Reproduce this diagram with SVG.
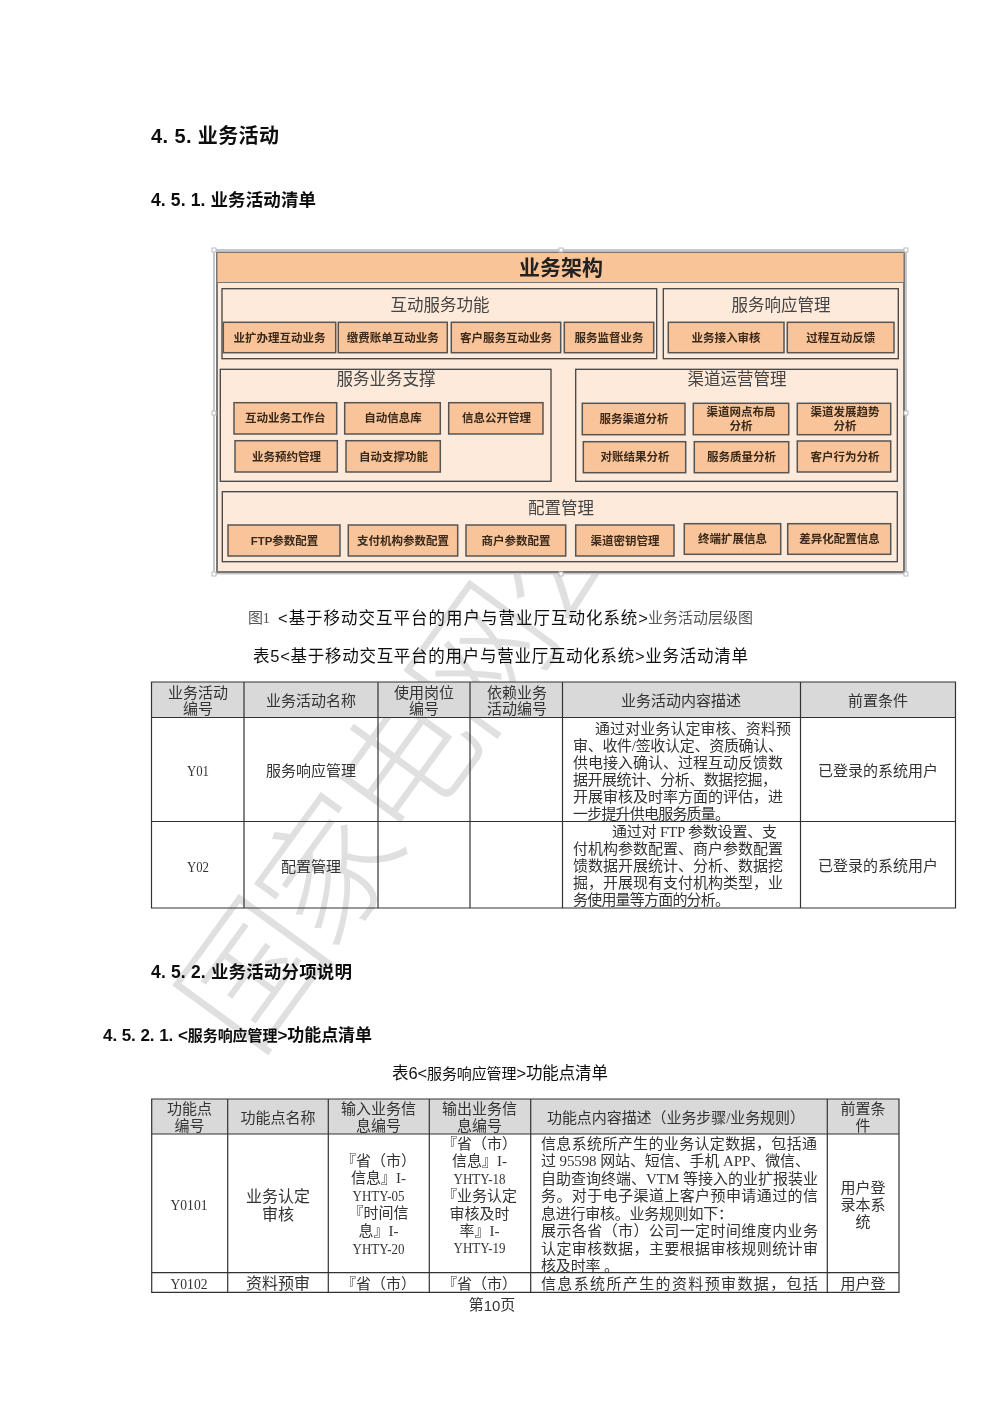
<svg xmlns="http://www.w3.org/2000/svg" width="1000" height="1415" viewBox="0 0 1000 1415">
<defs><filter id="soft" x="-2%" y="-2%" width="104%" height="104%"><feGaussianBlur stdDeviation="0.4"/></filter></defs>
<style>
text{dominant-baseline:central}
.h{font-family:"Liberation Sans","Noto Sans CJK SC",sans-serif;font-weight:700;fill:#111}
.cap{font-family:"Liberation Sans","Noto Sans CJK SC",sans-serif;fill:#111;font-size:16.5px}
.song{font-family:"Liberation Serif","Noto Sans CJK SC",serif;fill:#555;font-size:15px}
.c{text-anchor:middle}
.t{font-family:"Liberation Serif","Noto Sans CJK SC",serif;fill:#333;font-size:15px}
.big{font-size:16px}
.head{fill:#d9d9d9;stroke:none}
.grid{stroke:#333;stroke-width:1.2;fill:none}
.outer{fill:#fdeadb;stroke:#777;stroke-width:2}
.band{fill:#f8c498;stroke:#777;stroke-width:1}
.grp{fill:#fdeadb;stroke:#444;stroke-width:1.3}
.box{fill:#f9c499;stroke:#555;stroke-width:1.5}
.gt{font-family:"Noto Sans CJK SC",sans-serif;fill:#444;font-size:16.5px;text-anchor:middle}
.bt{font-family:"Liberation Sans","Noto Sans CJK SC",sans-serif;font-weight:700;fill:#3a2a1a;font-size:11.5px;text-anchor:middle}
.hd{fill:#fff;stroke:#bbb;stroke-width:1}
.wm{font-family:"Noto Sans CJK SC",sans-serif;font-size:138px;fill:#e0e0e0;font-weight:300;letter-spacing:-8px}
</style>
<rect width="1000" height="1415" fill="#fff"/>
<g filter="url(#soft)">
<g id="watermark"><text class="wm" x="0" y="0" transform="translate(204,1024) rotate(-54)">国家电网公司</text></g>

<g id="headings">
<text class="h" x="151" y="136" font-size="20" textLength="128">4. 5.  业务活动</text>
<text class="h" x="151" y="200" font-size="17.5" textLength="165">4. 5. 1.  业务活动清单</text>
<text class="h" x="151" y="972" font-size="17.5" textLength="201">4. 5. 2.  业务活动分项说明</text>
<text class="h" x="103" y="1035" font-size="17" textLength="269">4. 5. 2. 1. &lt;<tspan font-size="15">服务响应管理</tspan>&gt;功能点清单</text>
</g>

<g id="figure">
<rect x="214" y="250" width="692" height="323.500" fill="none" stroke="#c8c8c8" stroke-width="2"/>
<rect class="outer" x="217" y="252.500" width="687" height="319.500"/>
<rect class="band" x="217" y="252.500" width="687" height="30"/>
<text x="561" y="266" class="c" font-family="Noto Sans CJK SC, sans-serif" font-weight="700" font-size="21" fill="#222">业务架构</text>
<g class="handles">
<rect class="hd" x="212" y="248" width="4" height="4"/><rect class="hd" x="559" y="248" width="4" height="4"/><rect class="hd" x="904" y="248" width="4" height="4"/>
<rect class="hd" x="212" y="411" width="4" height="4"/><rect class="hd" x="904" y="411" width="4" height="4"/>
<rect class="hd" x="212" y="572" width="4" height="4"/><rect class="hd" x="559" y="572" width="4" height="4"/><rect class="hd" x="904" y="572" width="4" height="4"/>
</g>

<g id="g-hudong">
<rect class="grp" x="222" y="288.700" width="434.700" height="70"/>
<text class="gt" x="440" y="304">互动服务功能</text>
<g id="n1"><rect class="box" x="223.300" y="322.300" width="112.400" height="30.400"/><text class="bt" x="279.500" y="337.500">业扩办理互动业务</text></g>
<g id="n2"><rect class="box" x="338.300" y="322.300" width="109" height="30.400"/><text class="bt" x="392.800" y="337.500">缴费账单互动业务</text></g>
<g id="n3"><rect class="box" x="451.300" y="322.300" width="109.400" height="30.400"/><text class="bt" x="506" y="337.500">客户服务互动业务</text></g>
<g id="n4"><rect class="box" x="564.300" y="322.300" width="89.400" height="30.400"/><text class="bt" x="609" y="337.500">服务监督业务</text></g>
</g>

<g id="g-xiangying">
<rect class="grp" x="663.300" y="288.700" width="235" height="70"/>
<text class="gt" x="781" y="304">服务响应管理</text>
<g id="n5"><rect class="box" x="668.300" y="322.300" width="115.700" height="30.400"/><text class="bt" x="726" y="337.500">业务接入审核</text></g>
<g id="n6"><rect class="box" x="787.300" y="322.300" width="106.700" height="30.400"/><text class="bt" x="840.700" y="337.500">过程互动反馈</text></g>
</g>

<g id="g-zhicheng">
<rect class="grp" x="220.300" y="369.300" width="330.700" height="112"/>
<text class="gt" x="386" y="378">服务业务支撑</text>
<g id="n7"><rect class="box" x="234" y="402.700" width="102.700" height="31.300"/><text class="bt" x="285.300" y="418.300">互动业务工作台</text></g>
<g id="n8"><rect class="box" x="344.700" y="402.700" width="95.600" height="31.300"/><text class="bt" x="393" y="418.300">自动信息库</text></g>
<g id="n9"><rect class="box" x="448.700" y="402.700" width="94.300" height="31.300"/><text class="bt" x="496.500" y="418.300">信息公开管理</text></g>
<g id="n10"><rect class="box" x="235" y="440.700" width="102.300" height="31.300"/><text class="bt" x="286.500" y="456.600">业务预约管理</text></g>
<g id="n11"><rect class="box" x="346" y="440.700" width="94.300" height="31.300"/><text class="bt" x="393.500" y="456.600">自动支撑功能</text></g>
</g>

<g id="g-qudao">
<rect class="grp" x="575.700" y="369.300" width="321.600" height="112"/>
<text class="gt" x="737" y="378">渠道运营管理</text>
<g id="n12"><rect class="box" x="582.300" y="403.300" width="102.700" height="31.400"/><text class="bt" x="634" y="419">服务渠道分析</text></g>
<g id="n13"><rect class="box" x="693.300" y="403.300" width="95.400" height="31.400"/><text class="bt" x="741" y="412.300">渠道网点布局</text><text class="bt" x="741" y="426">分析</text></g>
<g id="n14"><rect class="box" x="797.300" y="403.300" width="93.400" height="31.400"/><text class="bt" x="845" y="412.300">渠道发展趋势</text><text class="bt" x="845" y="426">分析</text></g>
<g id="n15"><rect class="box" x="583.300" y="441.700" width="102.400" height="31"/><text class="bt" x="635" y="457">对账结果分析</text></g>
<g id="n16"><rect class="box" x="694.300" y="441.700" width="94.400" height="31"/><text class="bt" x="741.500" y="457">服务质量分析</text></g>
<g id="n17"><rect class="box" x="797.300" y="441" width="93.400" height="31"/><text class="bt" x="845" y="456.500">客户行为分析</text></g>
</g>

<g id="g-peizhi">
<rect class="grp" x="222.300" y="491.700" width="675" height="70"/>
<text class="gt" x="561" y="507">配置管理</text>
<g id="n18"><rect class="box" x="228" y="525" width="112" height="31"/><text class="bt" x="284.500" y="540.500">FTP参数配置</text></g>
<g id="n19"><rect class="box" x="348.300" y="525" width="109.400" height="31"/><text class="bt" x="403" y="540.500">支付机构参数配置</text></g>
<g id="n20"><rect class="box" x="466" y="525" width="99.700" height="31"/><text class="bt" x="516" y="540.500">商户参数配置</text></g>
<g id="n21"><rect class="box" x="575.700" y="525" width="98.300" height="31"/><text class="bt" x="625" y="540.500">渠道密钥管理</text></g>
<g id="n22"><rect class="box" x="684.300" y="523.700" width="96.400" height="30.600"/><text class="bt" x="732.500" y="538.500">终端扩展信息</text></g>
<g id="n23"><rect class="box" x="787.700" y="523.700" width="103" height="30.600"/><text class="bt" x="839.500" y="538.500">差异化配置信息</text></g>
</g>
</g>

<g id="captions">
<text class="song" x="248" y="618" font-size="14" textLength="22">图1</text>
<text class="cap" x="278" y="617.500" textLength="370">&lt;基于移动交互平台的用户与营业厅互动化系统&gt;</text>
<text class="song" x="648" y="618" textLength="105">业务活动层级图</text>
<text class="cap" x="253" y="656" textLength="495">表5&lt;基于移动交互平台的用户与营业厅互动化系统&gt;业务活动清单</text>
<text class="cap" x="392" y="1073" font-size="16" textLength="216">表6&lt;<tspan font-size="15">服务响应管理</tspan>&gt;功能点清单</text>
</g>

<g id="table5">
<rect class="head" x="151.500" y="682" width="804" height="35.500"/>
<path class="grid" d="M151.500 682H955.500V908H151.500ZM151.500 717.500H955.500M151.500 821.500H955.500M244 682V908M378 682V908M470 682V908M562.500 682V908M800.500 682V908"/>
<text class="t c" x="198" y="692.500">业务活动</text><text class="t c" x="198" y="709">编号</text>
<text class="t c" x="311" y="701">业务活动名称</text>
<text class="t c" x="424" y="692.500">使用岗位</text><text class="t c" x="424" y="709">编号</text>
<text class="t c" x="517" y="692.500">依赖业务</text><text class="t c" x="517" y="709">活动编号</text>
<text class="t c" x="681" y="701">业务活动内容描述</text>
<text class="t c" x="878" y="701">前置条件</text>
<text class="t c" x="198" y="771" textLength="22" lengthAdjust="spacingAndGlyphs">Y01</text>
<text class="t c" x="311" y="771">服务响应管理</text>
<text class="t" x="595" y="728.500" textLength="196">通过对业务认定审核、资料预</text>
<text class="t" x="573" y="746" textLength="210">审、收件/签收认定、资质确认、</text>
<text class="t" x="573" y="763" textLength="210">供电接入确认、过程互动反馈数</text>
<text class="t" x="573" y="780" textLength="204">据开展统计、分析、数据挖掘，</text>
<text class="t" x="573" y="797" textLength="210">开展审核及时率方面的评估，进</text>
<text class="t" x="573" y="814" textLength="157">一步提升供电服务质量。</text>
<text class="t c" x="878" y="771">已登录的系统用户</text>
<text class="t c" x="198" y="867" textLength="22" lengthAdjust="spacingAndGlyphs">Y02</text>
<text class="t c" x="311" y="867">配置管理</text>
<text class="t" x="612" y="831.500" textLength="165">通过对 FTP 参数设置、支</text>
<text class="t" x="573" y="849" textLength="210">付机构参数配置、商户参数配置</text>
<text class="t" x="573" y="866" textLength="210">馈数据开展统计、分析、数据挖</text>
<text class="t" x="573" y="883" textLength="210">掘，开展现有支付机构类型，业</text>
<text class="t" x="573" y="900" textLength="157">务使用量等方面的分析。</text>
<text class="t c" x="878" y="866">已登录的系统用户</text>
</g>

<g id="table6">
<rect class="head" x="151.700" y="1099" width="747.300" height="35"/>
<path class="grid" d="M151.700 1099H899V1292.300H151.700ZM151.700 1134H899M151.700 1272.700H899M227.700 1099V1292.300M328.300 1099V1292.300M429.300 1099V1292.300M530.700 1099V1292.300M827.300 1099V1292.300"/>
<text class="t c" x="189.500" y="1109">功能点</text><text class="t c" x="189.500" y="1126">编号</text>
<text class="t c" x="278" y="1118">功能点名称</text>
<text class="t c" x="378.500" y="1109">输入业务信</text><text class="t c" x="378.500" y="1126">息编号</text>
<text class="t c" x="479.500" y="1109">输出业务信</text><text class="t c" x="479.500" y="1126">息编号</text>
<text class="t" x="547" y="1118" textLength="258">功能点内容描述（业务步骤/业务规则）</text>
<text class="t c" x="863" y="1109">前置条</text><text class="t c" x="863" y="1126">件</text>
<text class="t c" x="189" y="1205" textLength="37" lengthAdjust="spacingAndGlyphs">Y0101</text>
<text class="t big c" x="278" y="1196">业务认定</text><text class="t big c" x="278" y="1214">审核</text>
<text class="t c" x="378.500" y="1161">『省（市）</text><text class="t c" x="378.500" y="1178">信息』I-</text><text class="t c" x="378.500" y="1196" textLength="52" lengthAdjust="spacingAndGlyphs">YHTY-05</text><text class="t c" x="378.500" y="1213">『时间信</text><text class="t c" x="378.500" y="1231">息』I-</text><text class="t c" x="378.500" y="1249" textLength="52" lengthAdjust="spacingAndGlyphs">YHTY-20</text>
<text class="t c" x="479.500" y="1143.500">『省（市）</text><text class="t c" x="479.500" y="1161">信息』I-</text><text class="t c" x="479.500" y="1179" textLength="52" lengthAdjust="spacingAndGlyphs">YHTY-18</text><text class="t c" x="479.500" y="1196">『业务认定</text><text class="t c" x="479.500" y="1213.500">审核及时</text><text class="t c" x="479.500" y="1231">率』I-</text><text class="t c" x="479.500" y="1248" textLength="52" lengthAdjust="spacingAndGlyphs">YHTY-19</text>
<text class="t" x="541" y="1143.500" textLength="276">信息系统所产生的业务认定数据，包括通</text>
<text class="t" x="541" y="1161" textLength="269">过 95598 网站、短信、手机 APP、微信、</text>
<text class="t" x="541" y="1178.500" textLength="277">自助查询终端、VTM 等接入的业扩报装业</text>
<text class="t" x="541" y="1196" textLength="277">务。对于电子渠道上客户预申请通过的信</text>
<text class="t" x="541" y="1213.500" textLength="192">息进行审核。业务规则如下：</text>
<text class="t" x="541" y="1231" textLength="277">展示各省（市）公司一定时间维度内业务</text>
<text class="t" x="541" y="1248.500" textLength="277">认定审核数据，主要根据审核规则统计审</text>
<text class="t" x="541" y="1265.500" textLength="78">核及时率 。</text>
<text class="t c" x="863" y="1188">用户登</text><text class="t c" x="863" y="1205">录本系</text><text class="t c" x="863" y="1222">统</text>
<text class="t c" x="189" y="1284" textLength="37" lengthAdjust="spacingAndGlyphs">Y0102</text>
<text class="t big c" x="278" y="1283.500">资料预审</text>
<text class="t c" x="378.500" y="1283.500">『省（市）</text>
<text class="t c" x="479.500" y="1283.500">『省（市）</text>
<text class="t" x="541" y="1283.500" textLength="277">信息系统所产生的资料预审数据，包括</text>
<text class="t c" x="863" y="1283.500">用户登</text>
</g>

<g id="footer"><text class="t c" x="492" y="1305">第<tspan font-family="Liberation Sans, sans-serif">10</tspan>页</text></g>
</g>
</svg>
